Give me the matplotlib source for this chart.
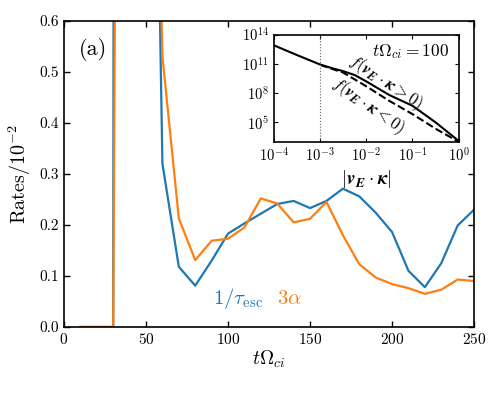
import numpy as np
import matplotlib; matplotlib.use("Agg")
import matplotlib.pyplot as plt

plt.rcParams.update({
    "font.family": "serif", "font.serif": ["cmr10"], "mathtext.fontset": "cm",
    "axes.formatter.use_mathtext": True, "axes.unicode_minus": False,
})

# main panel: rates vs time
t = [10, 20, 30, 40, 50, 60, 70, 80, 90, 100, 110, 120, 130, 140, 150, 160, 170, 180, 190, 200,
     210, 220, 230, 240, 250]
inv_tau = [0, 0, 0, 30.0, 2.2, 0.32, 0.118, 0.081, 0.13, 0.183, 0.203, 0.222, 0.241, 0.247, 0.233,
           0.247, 0.271, 0.256, 0.224, 0.186, 0.110, 0.078, 0.125, 0.199, 0.230]
three_alpha = [0, 0, 0, 6.0, 1.9, 0.53, 0.213, 0.131, 0.169, 0.173, 0.195, 0.252, 0.242, 0.205, 0.212,
               0.245, 0.180, 0.123, 0.097, 0.084, 0.076, 0.065, 0.073, 0.093, 0.090]

# inset: distribution f(|vE.kappa|), log10 values
lx_pos = [-4, -3.5, -3, -2.7, -2.5, -2.25, -2, -1.5, -1, -0.5, 0]
lf_pos = [12.9, 11.9, 10.93, 10.5, 10.25, 9.85, 9.2, 7.8, 6.7, 5.0, 3.1]
lx_neg = [-3, -2.5, -2, -1.5, -1, -0.5, 0]
lf_neg = [10.9, 10.1, 8.7, 7.2, 5.85, 4.35, 3.0]

blue, orange = "#1f77b4", "#ff7f0e"
vk = r"\boldsymbol{v}_{\boldsymbol{E}}\cdot\boldsymbol{\kappa}"
fig = plt.figure(figsize=(4.98, 3.93), dpi=100)
ax = fig.add_axes([0.1285, 0.168, 0.8235, 0.779])
ax.plot(t, inv_tau, color=blue, lw=1.6)
ax.plot(t, three_alpha, color=orange, lw=1.6)
ax.set_xlim(0, 250); ax.set_ylim(0, 0.6)
ax.set_xticks([0, 50, 100, 150, 200, 250])
ax.set_yticks([0, 0.1, 0.2, 0.3, 0.4, 0.5, 0.6])
ax.yaxis.set_major_formatter(matplotlib.ticker.FormatStrFormatter("%.1f"))
ax.tick_params(direction="in", top=True, right=True, labelsize=11, length=4, width=1)
for s in ax.spines.values():
    s.set_linewidth(1.2)
ax.set_xlabel(r"$t\Omega_{ci}$", fontsize=14, labelpad=1)
ax.set_ylabel(r"Rates$/10^{-2}$", fontsize=14.5, labelpad=5)
ax.text(0.071, 0.905, "(a)", transform=ax.transAxes, fontsize=16, ha="center", va="center")
ax.text(91, 0.055, r"$1/\tau_{\rm esc}$", color=blue, fontsize=15, va="center")
ax.text(130, 0.055, r"$3\alpha$", color=orange, fontsize=15, va="center")

ins = fig.add_axes([0.550, 0.639, 0.371, 0.273])
ins.plot(10.0 ** np.array(lx_pos), 10.0 ** np.array(lf_pos), color="k", lw=1.5)
ins.plot(10.0 ** np.array(lx_neg), 10.0 ** np.array(lf_neg), color="k", lw=1.5, ls="--")
ins.axvline(1e-3, color="0.4", lw=0.8, ls=":")
ins.set_xscale("log"); ins.set_yscale("log")
ins.set_xlim(1e-4, 1); ins.set_ylim(1e3, 1e14)
ins.set_xticks([1e-4, 1e-3, 1e-2, 1e-1, 1])
ins.set_yticks([1e5, 1e8, 1e11, 1e14])
ins.minorticks_off()
ins.tick_params(direction="in", top=True, right=True, labelsize=10.5, length=3)
for s in ins.spines.values():
    s.set_linewidth(1.2)
ins.set_xlabel(rf"$|{vk}|$", fontsize=13.5, labelpad=2)
ins.text(0.947, 0.84, r"$t\Omega_{ci}=100$", transform=ins.transAxes, fontsize=12.5, ha="right", va="center")
ins.text(0.606, 0.556, rf"$f({vk}>0)$", transform=ins.transAxes,
         fontsize=12, rotation=-33, ha="center", va="center", rotation_mode="anchor")
ins.text(0.509, 0.332, rf"$f({vk}<0)$", transform=ins.transAxes,
         fontsize=12, rotation=-35, ha="center", va="center", rotation_mode="anchor")

fig.savefig("out.png", dpi=100)
